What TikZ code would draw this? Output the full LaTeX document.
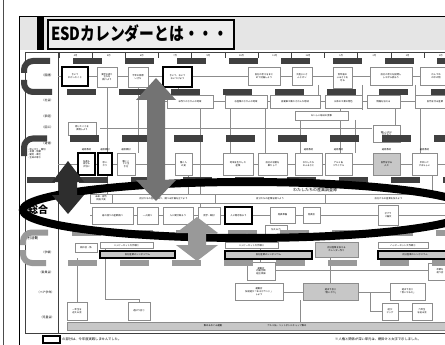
\documentclass[tikz,border=0pt]{standalone}
\usepackage{fontspec}
\setmainfont{Noto Sans CJK JP}
\XeTeXlinebreaklocale "ja"
\newcommand\tj{\fontsize{2.3}{2.8}\selectfont}
\newcommand\lj{\fontsize{2.9}{3.4}\selectfont}
\newcommand\Bx[7]{%
 \pgfmathsetmacro\bxw{(#4)-(#2)}\pgfmathsetmacro\bxh{(#5)-(#3)}%
 \pgfmathsetmacro\bxcx{((#2)+(#4))/2}\pgfmathsetmacro\bxcy{((#3)+(#5))/2}%
 \node[bx,#6,minimum width=\bxw pt,minimum height=\bxh pt] (#1) at (\bxcx,\bxcy) {#7};}
\begin{document}
\begin{tikzpicture}[x=1pt,y=-1pt,
  bx/.style={draw=black!45,line width=0.7pt,fill=white,inner sep=0.3pt,align=center,font=\tj},
  boldb/.style={draw=black,line width=1.6pt},
  shade/.style={fill=black!22},
  conn/.style={draw=black!45,line width=0.6pt},
  tl/.style={draw=black!75,line width=0.7pt},
  lab/.style={font=\lj,anchor=east,inner sep=0.5pt},
  mon/.style={font=\tj,inner sep=0pt},
  dkd/.style={fill=black!75},
  dkl/.style={draw=black!75,line width=6pt,rounded corners=9pt},
  ltd/.style={fill=black!40},
  ltl/.style={draw=black!40,line width=6pt,rounded corners=9pt}]
\useasboundingbox (0,0) rectangle (445,345);
% page and slide frame
\draw[line width=0.8pt,black!70] (3,0) -- (3,345);
\fill[black!10] (19,16) rectangle (445,50);
\draw[line width=0.8pt] (19,16) -- (445,16);
\draw[line width=0.8pt] (19,16) -- (19,345);
\fill[black] (37,16) rectangle (44,50);
\node[draw=black,line width=1.8pt,fill=black!7,minimum width=186pt,minimum height=29pt,anchor=north west,inner sep=0pt] (titlebox) at (47,19) {};
\node[anchor=west,inner sep=0pt,font=\bfseries\fontsize{18}{18}\selectfont] (title) at (51,34) {\scalebox{0.82}[1]{ESDカレンダーとは・・・}};
% table frame
\draw[tl] (25,52) -- (445,52);
\draw[tl] (25,52) -- (25,333) -- (445,333);
\draw[tl] (58,52) -- (58,333);
\foreach \i/\m in {0/4月,1/5月,2/6月,3/7月,4/9月,5/10月,6/11月,7/12月,8/1月,9/2月,10/3月,11/3月}{
  \draw[tl] ({59+33.2*\i},52) -- ++(0,6);
  \node[mon] (m\i) at ({59+33.2*\i+16.6},55.3) {\m};}
% row labels
\node[lab] (l1) at (54,75) {（国語）};
\node[lab] (l2) at (54,100) {（社会）};
\node[lab] (l3) at (54,116) {（家庭）};
\node[lab] (l4) at (54,127) {（図工）};
\node[lab] (l5) at (54,143) {（道徳）};
\node[font=\tj,align=left,anchor=north west,inner sep=0pt] (l6) at (27,148) {・思いやり・親切\\・友情・信頼\\・勤労・奉仕\\・生命の尊さ};
\node[font=\bfseries\fontsize{10}{10}\selectfont,inner sep=0pt] (sogo) at (38,210) {総合};
\node[font=\fontsize{3.6}{4}\selectfont,inner sep=0pt] (tokkatsu) at (31,238) {特別活動};
\node[lab] (l7) at (54,252) {（学級）};
\node[lab] (l8) at (54,272) {（委員会）};
\node[lab] (l9) at (55,292) {（ペア学年）};
\node[lab] (l10) at (55,317) {（児童会）};
% connector lines (timelines)
\draw[conn] (58,76) -- (445,76);
\draw[conn] (160,101) -- (445,101);
\draw[conn] (215,128) -- (372,128);
\draw[conn] (100,128) -- (215,128);
\draw[conn] (58,164) -- (445,164);
\draw[conn] (90,215) -- (445,215);
\draw[conn] (275,270) -- (428,270);
\draw[conn] (283,292) -- (390,292);
\draw[conn] (370,292) -- (370,311) -- (382,311);
\draw[conn] (398,311) -- (412,311);
\draw[conn] (105,248) -- (105,299) -- (139,299) -- (139,302);
\draw[conn] (77,258) -- (77,302);
\foreach \x/\a/\b in {107/87/194,138/87/153,178/87/95,200/108/207,230/108/153,265/108/153,300/120/153,318/85/95,340/88/95,340/108/153,355/120/153,362/85/110,395/108/125,415/85/95,420/108/153,432/175/194,188/175/194,260/249/262,330/258/283,300/300/330}
  \draw[conn] (\x,\a) -- (\x,\b);
% 国語
\Bx{a1}{62}{67}{88}{86}{boldb}{きいて\\わかったこと}
\Bx{a2}{97}{67}{117}{87}{}{漢字の成り\\立ちを\\調べよう}
\Bx{a3}{128}{67}{148}{87}{}{今年の目標\\いざな}
\Bx{a4}{163}{67}{192}{87}{boldb}{きいて、おいて\\おいつけよう}
\Bx{a5}{248}{67}{280}{85}{}{自分の考えをまと\\めて討論しよう}
\Bx{a6}{292}{67}{312}{85}{}{大造じいさ\\んとガン}
\Bx{a7}{333}{67}{352}{88}{}{百年後の\\ふるさとを\\守る}
\Bx{a8}{370}{67}{412}{85}{}{自分の考えを説明し\\しながら読もう}
\Bx{a9}{420}{67}{452}{85}{}{かんづめ\\の中の物}
% 社会 家庭 図工
\Bx{s1}{167}{95}{213}{108}{}{米作りのさかんな地域}
\Bx{s2}{225}{95}{267}{108}{}{水産業のさかんな地域}
\Bx{s3}{270}{95}{320}{108}{}{自動車工業のさかんな地域}
\Bx{s4}{325}{95}{362}{108}{}{日本の工業の特色}
\Bx{s5}{367}{95}{400}{108}{}{情報を伝える}
\Bx{s6}{415}{95}{455}{108}{}{自然を守る産業}
\Bx{h1}{295}{111}{348}{120}{}{おいしい毎日の食事}
\Bx{z1}{68}{122}{96}{135}{}{感じたことを\\表現しよう}
\Bx{z2}{373}{125}{400}{142}{}{優しい形に\\きざもう}
% 道徳 row
\foreach \n/\x in {b1/86.5,b2/105,b3/126,b7/308.5,b8/338.5,b9/386.5,b10/424.5}
  \node[font=\tj,inner sep=0pt] (t\n) at (\x,149.5) {道徳教材};
\Bx{b1}{78}{153}{95}{175}{boldb}{友達も\\自分も\\大切に}
\Bx{b2}{98}{153}{112}{175}{boldb}{思い\\やり}
\Bx{b3}{117}{153}{135}{175}{}{働くこ\\とと生\\き方}
\Bx{b4}{175}{153}{192}{175}{}{働く人\\の姿}
\Bx{b5}{223}{153}{253}{175}{}{地域を生かした\\産業}
\Bx{b6}{258}{153}{287}{175}{}{自分の役割を\\果たして}
\Bx{b7}{295}{153}{322}{175}{}{わたしたち\\のふるさと}
\Bx{b8}{325}{153}{352}{175}{}{アルミ缶\\リサイクル}
\Bx{b9}{373}{153}{400}{175}{shade}{自然を守る\\人々}
\Bx{b10}{412}{153}{437}{175}{}{平和って\\すばらしい}
% 総合
\node[font=\fontsize{4}{4}\selectfont,inner sep=0pt] (sgt) at (315,190) {わたしたちの産業調査隊};
\Bx{g0}{90}{194}{112}{203}{}{未来・自然\\目指す姿}
\Bx{g1}{112}{194}{215}{203}{}{自分たちの産業を知り，調べる計画を立てよう}
\Bx{g2}{215}{194}{325}{203}{}{自分たちの産業を調べよう}
\Bx{g3}{325}{194}{452}{203}{}{自分たちの産業を伝えよう}
\Bx{c1}{92}{207}{133}{224}{}{身の回りの産業調べ}
\Bx{c2}{137}{207}{158}{224}{}{一人調べ}
\Bx{c3}{163}{207}{193}{224}{}{人に聞き取ろう}
\Bx{c4}{198}{207}{220}{224}{}{見学・取材}
\Bx{c5}{225}{207}{252}{224}{boldb}{人に聞き取ろう}
\Bx{c6}{270}{207}{295}{223}{}{発表準備}
\Bx{c7}{303}{207}{320}{223}{}{発表会}
\Bx{c8}{378}{205}{398}{225}{}{ゼブラ\\リ論文}
\Bx{c9}{265}{225}{287}{235}{}{伝える力}
% 特別活動
\Bx{k1}{75}{243}{97}{252}{}{朝の会・係}
\Bx{k2}{100}{242}{153}{248.5}{}{ハッピーセット大作戦①}
\Bx{k3}{100}{251}{175}{258}{boldb,shade}{自分産業のシンポジウム}
\Bx{k4}{225}{242}{278}{248.5}{}{ハッピーセット大作戦②}
\Bx{k5}{225}{251}{312}{259}{boldb,shade}{自分産業のシンポジウム}
\Bx{k6}{315}{242}{358}{257}{shade}{自分産業を伝える\\カレンダー作り}
\Bx{k7}{378}{242}{428}{248.5}{}{ハッピーセット大作戦③}
\Bx{k8}{378}{251}{452}{259}{boldb,shade}{自分産業のシンポジウム}
\Bx{e1}{247}{262}{275}{280}{}{運動会\\応援合戦\\組立体操}
\Bx{e2}{428}{263}{452}{280}{}{卒業を\\祝う会}
\Bx{e3}{235}{283}{283}{300}{}{運動会\\伝統遊び「あそびランド」\\しよう}
\Bx{e4}{303}{283}{358}{300}{shade}{遊ぼう会②\\「思いやり」}
\Bx{e5}{390}{283}{425}{300}{}{遊ぼう会③\\「思いやるえ」}
\Bx{e6}{382}{303}{398}{320}{}{遊び\\ビッグ}
\Bx{e7}{412}{303}{432}{320}{}{六年生\\を送る会}
\Bx{e8}{67}{302}{87}{320}{}{一年生を\\迎える会}
\Bx{e9}{128}{302}{150}{320}{}{遊ぼう会①}
\Bx{f1}{67}{322}{452}{330}{shade}{}
\node[font=\tj,inner sep=0pt] (f1a) at (213,326) {集めるめぐみ運動};
\node[font=\tj,inner sep=0pt] (f1b) at (287,326) {アルミ缶・ペットボトルキャップ集め};
% notes
\node[draw=black,line width=1.3pt,minimum width=17pt,minimum height=7pt,inner sep=0pt] (legend) at (51.5,339.5) {};
\node[font=\fontsize{3.3}{3.5}\selectfont,anchor=west,inner sep=0pt] (legtxt) at (62,339.5) {の部分は、今年度実践しませんでした。};
\node[font=\fontsize{3.3}{3.5}\selectfont,anchor=west,inner sep=0pt] (note) at (335,339) {※人権と関係が深い単元は、網掛けと太字で示しました。};
% dashed highlight frames
\foreach \x in {73,125,...,437} \fill[dkd] (\x,58) rectangle ++(29,6);
\foreach \x in {67,119,...,431} \fill[dkd] (\x,89) rectangle ++(29,6);
\draw[dkl] (50,61) -- (24,61) -- (24,73);
\draw[dkl] (24,80) -- (24,92) -- (52,92);
\foreach \x in {70,122,...,434} \fill[dkd] (\x,135.5) rectangle ++(29,6);
\foreach \x in {79,131,...,443} \fill[dkd] (\x,177) rectangle ++(29,6);
\fill[dkd] (27,177) rectangle (55,183);
\draw[dkl] (47,138.5) -- (24,138.5) -- (24,156);
\foreach \x in {72,124,...,436} \fill[ltd] (\x,229.5) rectangle ++(29,6);
\foreach \x in {68,120,...,432} \fill[ltd] (\x,260) rectangle ++(29,6);
\draw[ltl] (48,232.5) -- (23,232.5) -- (23,245);
\draw[ltl] (23,250) -- (23,263) -- (46,263);
% big ellipse
\draw[line width=8pt] (247,210) ellipse [x radius=224, y radius=28];
% arrows
\fill[black!55] (156,78) -- (176,100) -- (165,100) -- (165,180) -- (176,180) -- (156,201) -- (136,180) -- (147,180) -- (147,100) -- (136,100) -- cycle;
\fill[black!82] (68,161) -- (84,182) -- (77,182) -- (77,195) -- (84,195) -- (68,214) -- (52,195) -- (59,195) -- (59,182) -- (52,182) -- cycle;
\fill[black!40] (197,217) -- (218,233) -- (206,233) -- (206,245) -- (218,245) -- (197,261) -- (176,245) -- (188,245) -- (188,233) -- (176,233) -- cycle;
\end{tikzpicture}
\end{document}
